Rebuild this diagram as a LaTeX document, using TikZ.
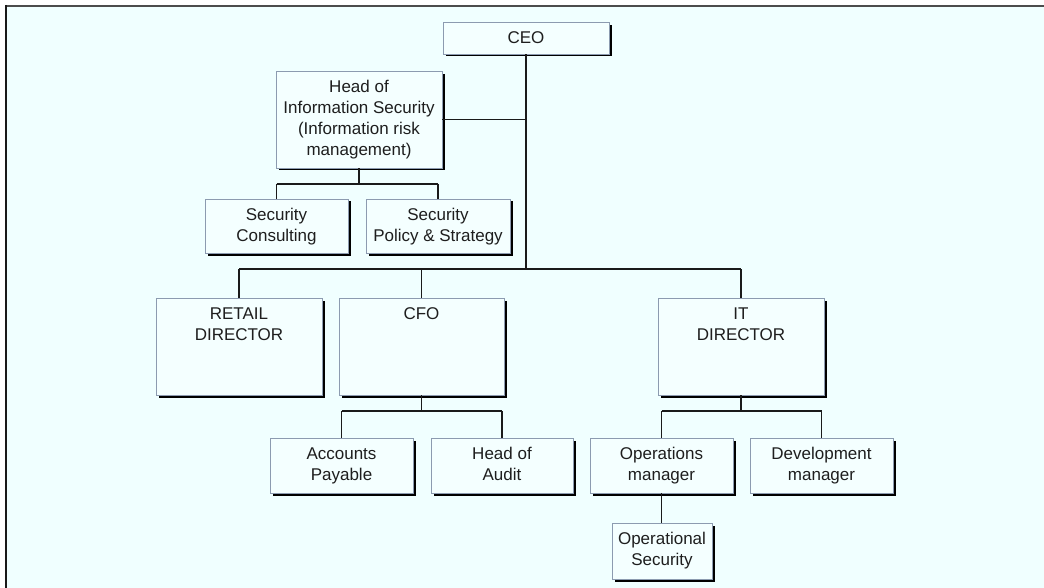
\documentclass[tikz,border=0pt]{standalone}
\usepackage{fontspec}
\setmainfont{Liberation Sans}
\usetikzlibrary{shadows}
\definecolor{pagebg}{HTML}{F0FFFF}
\definecolor{boxfill}{HTML}{F4FFFF}
\definecolor{boxedge}{HTML}{8C9BB0}
\definecolor{wirecol}{HTML}{1A1A1A}
\definecolor{inktext}{HTML}{1E1E1E}
% box content: width, height, top-aligned centred lines
\newcommand\celltext[3]{\parbox[c][#2pt][t]{#1pt}{\centering\rule{0pt}{21.5pt}#3}}
\begin{document}
\begin{tikzpicture}[x=1pt,y=-1pt,
  orgbox/.style={draw=boxedge, line width=0.8pt, fill=boxfill, inner sep=0pt,
    text=inktext, font=\fontsize{17}{21}\selectfont,
    drop shadow={shadow xshift=2.5pt, shadow yshift=-2.5pt, fill=black, opacity=1}},
  wire/.style={draw=wirecol, line width=1.3pt}]
\useasboundingbox (0,0) rectangle (1044,588);
% page and frame
\fill[white] (0,0) rectangle (1044,588);
\fill[pagebg] (6,6) rectangle (1044,588);
\draw[line width=2pt, color=black!70] (5,6) -- (1044,6);
\draw[line width=2pt, color=black!90] (6,5) -- (6,588);

% boxes
\node[orgbox] (ceo)    at (526,38.25)  {\celltext{166}{31.5}{CEO}};
\node[orgbox] (hois)   at (359,119.75) {\celltext{166}{96.5}{Head of\\Information Security\\(Information risk\\management)}};
\node[orgbox] (scons)  at (276.5,226)  {\celltext{143}{54}{Security\\Consulting}};
\node[orgbox] (spol)   at (438,226)    {\celltext{144}{54}{Security\\Policy \& Strategy}};
\node[orgbox] (retail) at (239,346.5)  {\celltext{166}{97}{RETAIL\\DIRECTOR}};
\node[orgbox] (cfo)    at (421.5,346.5){\celltext{165}{97}{CFO}};
\node[orgbox] (itdir)  at (741,346.5)  {\celltext{166}{97}{IT\\DIRECTOR}};
\node[orgbox] (ap)     at (341.5,465.5){\celltext{143}{55}{Accounts\\Payable}};
\node[orgbox] (hoa)    at (502,465.5)  {\celltext{142}{55}{Head of\\Audit}};
\node[orgbox] (ops)    at (661.5,465.5){\celltext{143}{55}{Operations\\manager}};
\node[orgbox] (dev)    at (821.5,465.5){\celltext{143}{55}{Development\\manager}};
\node[orgbox] (opsec)  at (662,551)    {\celltext{100}{56}{Operational\\Security}};

% bus levels
\coordinate (busy) at (0,269);
\coordinate (hoisbar) at (0,184);
\coordinate (lowbar) at (0,411);

% CEO branch
\draw[wire] (ceo.south) -- (ceo.south |- busy);
\draw[wire] (hois.east) -- (hois.east -| ceo.south);
\draw[wire] (retail.north |- busy) -- (itdir.north |- busy);
\draw[wire] (retail.north |- busy) -- (retail.north);
\draw[wire] (cfo.north |- busy) -- (cfo.north);
\draw[wire] (itdir.north |- busy) -- (itdir.north);

% information security branch
\draw[wire] (hois.south) -- (hois.south |- hoisbar);
\draw[wire] (scons.north |- hoisbar) -- (spol.north |- hoisbar);
\draw[wire] (scons.north |- hoisbar) -- (scons.north);
\draw[wire] (spol.north |- hoisbar) -- (spol.north);

% CFO branch
\draw[wire] (cfo.south) -- (cfo.south |- lowbar);
\draw[wire] (ap.north |- lowbar) -- (hoa.north |- lowbar);
\draw[wire] (ap.north |- lowbar) -- (ap.north);
\draw[wire] (hoa.north |- lowbar) -- (hoa.north);

% IT branch
\draw[wire] (itdir.south) -- (itdir.south |- lowbar);
\draw[wire] (ops.north |- lowbar) -- (dev.north |- lowbar);
\draw[wire] (ops.north |- lowbar) -- (ops.north);
\draw[wire] (dev.north |- lowbar) -- (dev.north);
\draw[wire] (ops.south) -- (ops.south |- opsec.north);
\end{tikzpicture}
\end{document}
